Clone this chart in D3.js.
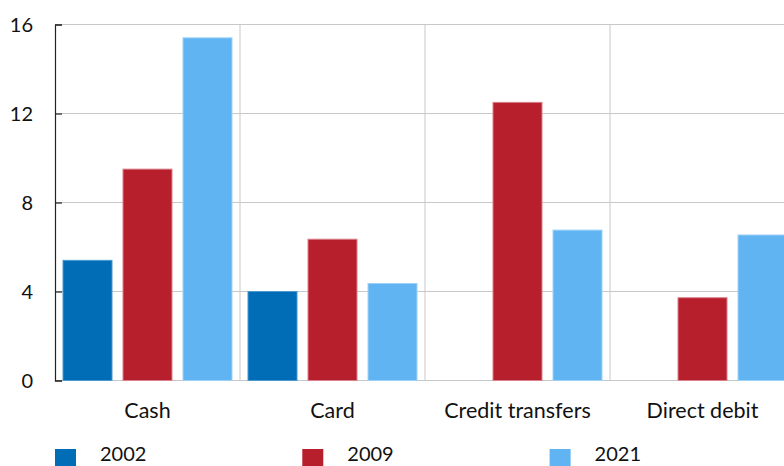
<!DOCTYPE html>
<html>
<head>
<meta charset="utf-8">
<script src="https://cdn.jsdelivr.net/npm/d3@7"></script>
<style>
  html, body { margin: 0; padding: 0; background: #fff; }
  svg { display: block; }
  text { font-family: Lato, "Open Sans", sans-serif; fill: #111; }
</style>
</head>
<body>
<svg id="chart" width="784" height="466"></svg>
<script>
// Payment methods and the survey years shown for each
const categories = ["Cash", "Card", "Credit transfers", "Direct debit"];
const years = ["2002", "2009", "2021"];
const values2002 = [5.4, 4.0, null, null];
const values2009 = [9.5, 6.35, 12.5, 3.72];
const values2021 = [15.4, 4.36, 6.76, 6.54];
const yTicks = [0, 4, 8, 12, 16];

const seriesValues = [values2002, values2009, values2021];
const colors = ["#006db6", "#b81f2d", "#60b4f2"];
const strokes = ["#4a9ad0", "#d9808a", "#9fd1f7"];

const svg = d3.select("#chart");
const margin = { left: 55, top: 24.5, bottom: 380.5 };
const bandWidth = 185;

const x = d3.scaleBand()
  .domain(categories)
  .range([margin.left, margin.left + bandWidth * categories.length])
  .padding(0);

const xInner = d3.scaleBand()
  .domain(years)
  .range([0, x.bandwidth()])
  .paddingInner(1 / 6)
  .paddingOuter(0.125);

const y = d3.scaleLinear()
  .domain([0, 16])
  .range([margin.bottom, margin.top]);

// Horizontal gridlines
svg.append("g")
  .selectAll("line")
  .data(yTicks)
  .join("line")
  .attr("x1", margin.left)
  .attr("x2", 784)
  .attr("y1", d => y(d))
  .attr("y2", d => y(d))
  .attr("stroke", "#c8c8c8")
  .attr("stroke-width", 1);

// Vertical separators between payment methods
svg.append("g")
  .selectAll("line")
  .data(categories.slice(1))
  .join("line")
  .attr("x1", d => x(d))
  .attr("x2", d => x(d))
  .attr("y1", y(16))
  .attr("y2", y(0))
  .attr("stroke", "#c8c8c8")
  .attr("stroke-width", 1);

// Bars
const rows = [];
categories.forEach((c, i) => {
  years.forEach((yr, j) => {
    const v = seriesValues[j][i];
    if (v != null) rows.push({ c, yr, j, v });
  });
});

svg.append("g")
  .selectAll("rect")
  .data(rows)
  .join("rect")
  .attr("x", d => x(d.c) + xInner(d.yr) + 0.5)
  .attr("y", d => y(d.v))
  .attr("width", xInner.bandwidth() - 1)
  .attr("height", d => y(0) - y(d.v))
  .attr("fill", d => colors[d.j])
  .attr("stroke", d => strokes[d.j])
  .attr("stroke-width", 1);

// Left axis with inward ticks
const yAxis = d3.axisLeft(y)
  .tickValues(yTicks)
  .tickSize(-7)
  .tickFormat(d3.format("d"));

const gy = svg.append("g")
  .attr("transform", `translate(${margin.left},0)`)
  .call(yAxis);
gy.select(".domain").attr("stroke", "#222").attr("stroke-width", 1.2);
gy.selectAll(".tick line").attr("stroke", "#222").attr("stroke-width", 1.2);
gy.selectAll(".tick text")
  .attr("font-size", 20)
  .attr("font-family", "Lato, 'Open Sans', sans-serif")
  .attr("fill", "#111")
  .attr("x", -22)
  .attr("dy", "0.36em");

// Category labels
svg.append("g")
  .selectAll("text")
  .data(categories)
  .join("text")
  .attr("x", d => x(d) + x.bandwidth() / 2)
  .attr("y", 418)
  .attr("text-anchor", "middle")
  .attr("font-size", 21.5)
  .text(d => d);

// Legend
const legend = svg.append("g")
  .selectAll("g")
  .data(years)
  .join("g")
  .attr("transform", (d, i) => `translate(${55 + i * 247.3},449)`);

legend.append("rect")
  .attr("width", 21)
  .attr("height", 21)
  .attr("fill", (d, i) => colors[i]);

legend.append("text")
  .attr("x", 45)
  .attr("y", 12)
  .attr("font-size", 20)
  .text(d => d);
</script>
</body>
</html>
